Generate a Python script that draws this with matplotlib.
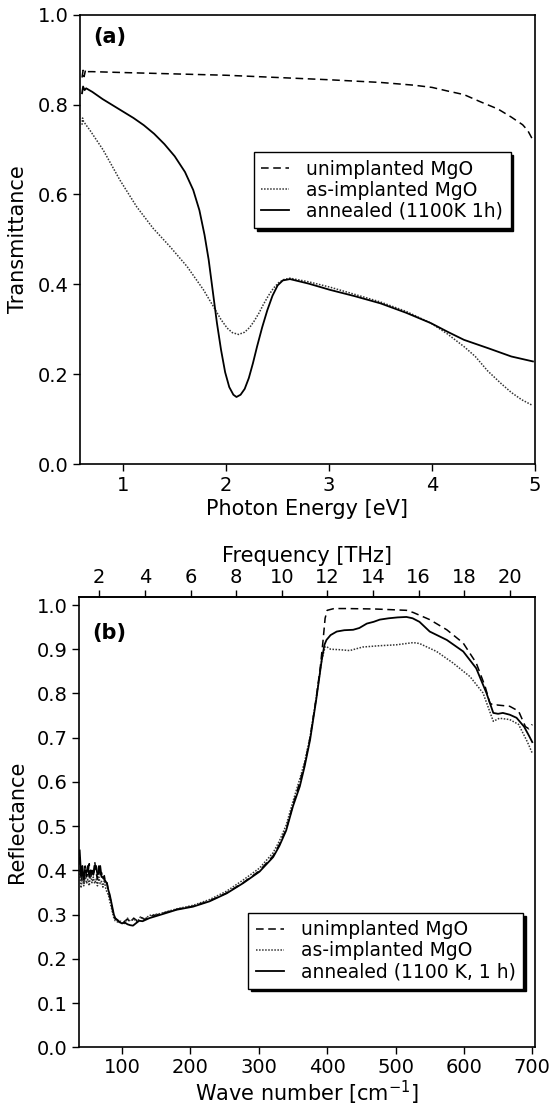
import matplotlib
matplotlib.use("Agg")
import matplotlib.pyplot as plt

# ---- (a) transmittance vs photon energy ----
ev_unimp = [0.60, 0.61, 0.62, 0.635, 0.65, 0.70, 1.0, 1.5, 2.0, 2.5, 3.0, 3.5, 3.82, 4.0, 4.15, 4.31,
            4.47, 4.64, 4.77, 4.88, 4.93, 4.97]
T_unimp = [0.860, 0.876, 0.862, 0.878, 0.873, 0.873, 0.871, 0.868, 0.865, 0.860, 0.855, 0.849, 0.843,
           0.838, 0.830, 0.822, 0.806, 0.790, 0.772, 0.755, 0.742, 0.725]

ev_imp = [0.60, 0.605, 0.615, 0.676, 0.805, 0.968, 1.13, 1.29, 1.455, 1.62, 1.78, 1.876, 1.95, 2.01,
          2.06, 2.12, 2.18, 2.23, 2.27, 2.32, 2.36, 2.41, 2.46, 2.51, 2.56, 2.62, 2.8, 3.01, 3.25, 3.50,
          3.75, 3.99, 4.15, 4.31, 4.42, 4.54, 4.67, 4.77, 4.87, 4.97]
T_imp = [0.755, 0.770, 0.762, 0.743, 0.699, 0.632, 0.573, 0.525, 0.484, 0.440, 0.388, 0.351, 0.322,
         0.303, 0.293, 0.289, 0.294, 0.305, 0.318, 0.337, 0.355, 0.375, 0.392, 0.404, 0.411, 0.414,
         0.406, 0.394, 0.378, 0.361, 0.340, 0.314, 0.290, 0.262, 0.240, 0.208, 0.180, 0.160, 0.144,
         0.132]

ev_ann = [0.60, 0.61, 0.625, 0.64, 0.70, 0.80, 0.90, 1.0, 1.1, 1.2, 1.3, 1.4, 1.5, 1.6, 1.68, 1.74,
          1.79, 1.83, 1.87, 1.91, 1.95, 1.99, 2.03, 2.07, 2.10, 2.14, 2.18, 2.22, 2.26, 2.30, 2.35, 2.40,
          2.45, 2.50, 2.55, 2.62, 2.8, 3.01, 3.25, 3.50, 3.75, 3.99, 4.15, 4.31, 4.55, 4.77, 4.98]
T_ann = [0.825, 0.840, 0.832, 0.836, 0.828, 0.812, 0.798, 0.784, 0.770, 0.754, 0.735, 0.712, 0.685,
         0.650, 0.610, 0.565, 0.510, 0.455, 0.385, 0.315, 0.255, 0.205, 0.172, 0.155, 0.150, 0.155,
         0.168, 0.192, 0.225, 0.262, 0.305, 0.343, 0.375, 0.398, 0.409, 0.412, 0.402, 0.388, 0.374,
         0.358, 0.337, 0.314, 0.295, 0.277, 0.258, 0.240, 0.229]

# ---- (b) reflectance vs wave number ----
wn_unimp = [38, 40, 42, 44, 46, 48, 50, 52, 54, 56, 58, 60, 62, 64, 66, 68, 70, 72, 74, 76, 78, 80, 82,
            84, 86, 88, 90, 94, 98, 103, 108, 112, 117, 122, 127, 133, 140, 155, 180, 204, 228, 253, 277,
            301, 321, 330, 340, 350, 360, 367, 375, 384, 390, 394, 397, 400, 410, 428, 470, 516, 526,
            550, 575, 599, 618, 631, 638, 644, 648, 667, 680, 690, 695, 700]
R_unimp = [0.430, 0.375, 0.400, 0.370, 0.410, 0.385, 0.395, 0.415, 0.380, 0.400, 0.390, 0.420, 0.395,
           0.380, 0.410, 0.390, 0.395, 0.380, 0.388, 0.370, 0.372, 0.350, 0.340, 0.328, 0.310, 0.298,
           0.290, 0.287, 0.280, 0.284, 0.290, 0.282, 0.292, 0.286, 0.294, 0.289, 0.296, 0.301, 0.312,
           0.319, 0.331, 0.349, 0.372, 0.399, 0.433, 0.458, 0.493, 0.548, 0.600, 0.640, 0.700, 0.790,
           0.860, 0.920, 0.970, 0.988, 0.992, 0.992, 0.991, 0.988, 0.983, 0.967, 0.944, 0.914, 0.869,
           0.816, 0.778, 0.773, 0.774, 0.771, 0.760, 0.725, 0.720, 0.730]

wn_imp = [38, 40, 42, 44, 46, 48, 50, 52, 54, 56, 58, 60, 62, 64, 66, 68, 70, 72, 74, 76, 78, 80, 82,
          84, 86, 88, 90, 94, 98, 103, 108, 112, 117, 122, 127, 133, 140, 155, 180, 204, 228, 253, 277,
          301, 321, 330, 340, 350, 360, 367, 375, 384, 392, 397, 399, 405, 418, 433, 452, 477, 501, 526,
          535, 560, 584, 609, 628, 643, 652, 667, 680, 693, 700]
R_imp = [0.400, 0.360, 0.385, 0.365, 0.390, 0.370, 0.380, 0.365, 0.395, 0.372, 0.385, 0.370, 0.380,
         0.365, 0.385, 0.370, 0.375, 0.362, 0.378, 0.360, 0.350, 0.345, 0.330, 0.318, 0.305, 0.292,
         0.286, 0.283, 0.285, 0.278, 0.292, 0.285, 0.290, 0.283, 0.295, 0.290, 0.298, 0.302, 0.313,
         0.321, 0.334, 0.353, 0.378, 0.405, 0.440, 0.466, 0.502, 0.556, 0.607, 0.645, 0.702, 0.790,
         0.875, 0.906, 0.906, 0.900, 0.899, 0.897, 0.905, 0.908, 0.910, 0.915, 0.913, 0.895, 0.869,
         0.838, 0.801, 0.737, 0.744, 0.741, 0.730, 0.690, 0.665]

wn_ann = [38, 40, 42, 44, 46, 48, 50, 52, 54, 56, 58, 60, 62, 64, 66, 68, 70, 72, 74, 76, 78, 80, 82,
          84, 86, 88, 90, 93, 96, 100, 104, 108, 112, 116, 120, 125, 130, 140, 155, 180, 204, 228, 253,
          277, 301, 321, 330, 340, 350, 360, 367, 375, 384, 392, 396, 399, 405, 414, 425, 438, 447, 458,
          468, 477, 490, 503, 516, 525, 535, 550, 575, 599, 618, 633, 643, 650, 657, 667, 677, 688, 695,
          700]
R_ann = [0.445, 0.390, 0.410, 0.380, 0.400, 0.395, 0.410, 0.385, 0.400, 0.395, 0.390, 0.405, 0.410,
         0.390, 0.395, 0.410, 0.385, 0.385, 0.380, 0.375, 0.370, 0.355, 0.345, 0.330, 0.315, 0.300,
         0.292, 0.288, 0.283, 0.280, 0.282, 0.278, 0.276, 0.275, 0.280, 0.286, 0.285, 0.292, 0.299,
         0.311, 0.318, 0.330, 0.348, 0.371, 0.397, 0.430, 0.455, 0.490, 0.545, 0.590, 0.635, 0.695,
         0.786, 0.875, 0.910, 0.921, 0.932, 0.940, 0.943, 0.944, 0.948, 0.958, 0.962, 0.967, 0.970,
         0.972, 0.973, 0.970, 0.962, 0.940, 0.921, 0.895, 0.857, 0.801, 0.756, 0.754, 0.756, 0.752,
         0.745, 0.725, 0.705, 0.690]

labels_a = ["unimplanted MgO", "as-implanted MgO", "annealed (1100K 1h)"]
labels_b = ["unimplanted MgO", "as-implanted MgO", "annealed (1100 K, 1 h)"]

plt.rcParams['font.family'] = ['DejaVu Sans']

dash = (0, (5, 3))
dots = (0, (1, 1))

fig = plt.figure(figsize=(5.52, 11.16), dpi=100)

#=============================================================================
ax1 = fig.add_axes([0.1449, 0.5838, 0.8243, 0.4032])
ax1.plot(ev_unimp, T_unimp, color="black", lw=1.1, linestyle=dash, label=labels_a[0])
ax1.plot(ev_imp, T_imp, color="#333333", lw=1.1, linestyle=dots, label=labels_a[1])
ax1.plot(ev_ann, T_ann, color="black", lw=1.3, label=labels_a[2])
ax1.set_xlim(0.58, 5.0)
ax1.set_ylim(0, 1.0)
ax1.set_xticks([1, 2, 3, 4, 5])
ax1.set_yticks([0.0, 0.2, 0.4, 0.6, 0.8, 1.0])
ax1.set_yticklabels(["0.0", "0.2", "0.4", "0.6", "0.8", "1.0"])
ax1.set_xlabel("Photon Energy [eV]", fontsize=15, labelpad=3)
ax1.set_ylabel("Transmittance", fontsize=15, labelpad=7)
ax1.text(0.03, 0.95, "(a)", transform=ax1.transAxes, fontsize=15, fontweight="bold",
         va="center", ha="left")
leg1 = ax1.legend(loc="upper left", bbox_to_anchor=(0.382, 0.694), borderaxespad=0,
                  fontsize=13.5, frameon=True, fancybox=False, edgecolor="black",
                  shadow={"color": "black", "alpha": 1}, handlelength=1.5,
                  handletextpad=0.9, labelspacing=0.1, borderpad=0.4)
leg1.get_frame().set_linewidth(1.0)

#=============================================================================
ax2 = fig.add_axes([0.1431, 0.0616, 0.8261, 0.4038])
ax2.plot(wn_unimp, R_unimp, color="black", lw=1.1, linestyle=dash, label=labels_b[0])
ax2.plot(wn_imp, R_imp, color="#333333", lw=1.1, linestyle=dots, label=labels_b[1])
ax2.plot(wn_ann, R_ann, color="black", lw=1.3, label=labels_b[2])
ax2.set_xlim(37, 704)
ax2.set_ylim(0, 1.019)
ax2.set_xticks([100, 200, 300, 400, 500, 600, 700])
yt = [i / 10 for i in range(11)]
ax2.set_yticks(yt)
ax2.set_yticklabels(["%.1f" % v for v in yt])
ax2.set_xlabel("Wave number [cm$^{-1}$]", fontsize=15, labelpad=1)
ax2.set_ylabel("Reflectance", fontsize=15, labelpad=7)
ax2.text(0.03, 0.92, "(b)", transform=ax2.transAxes, fontsize=15, fontweight="bold",
         va="center", ha="left")
leg2 = ax2.legend(loc="upper left", bbox_to_anchor=(0.371, 0.298), borderaxespad=0,
                  fontsize=13.5, frameon=True, fancybox=False, edgecolor="black",
                  shadow={"color": "black", "alpha": 1}, handlelength=1.5,
                  handletextpad=0.9, labelspacing=0.1, borderpad=0.4)
leg2.get_frame().set_linewidth(1.0)

top = ax2.secondary_xaxis("top", functions=(lambda w: w / 33.356, lambda f: f * 33.356))
top.set_xticks(list(range(2, 21, 2)))
top.set_xlabel("Frequency [THz]", fontsize=15, labelpad=4)
top.tick_params(direction="out", length=5, width=1, labelsize=14, pad=2)

for ax in [ax1, ax2]:
    ax.tick_params(direction="out", length=5, width=1, labelsize=14, pad=3,
                   top=False, right=False)
    for s in ax.spines.values():
        s.set_linewidth(1.2)
top.spines["top"].set_linewidth(1.2)

plt.savefig("out.png", dpi=100)
